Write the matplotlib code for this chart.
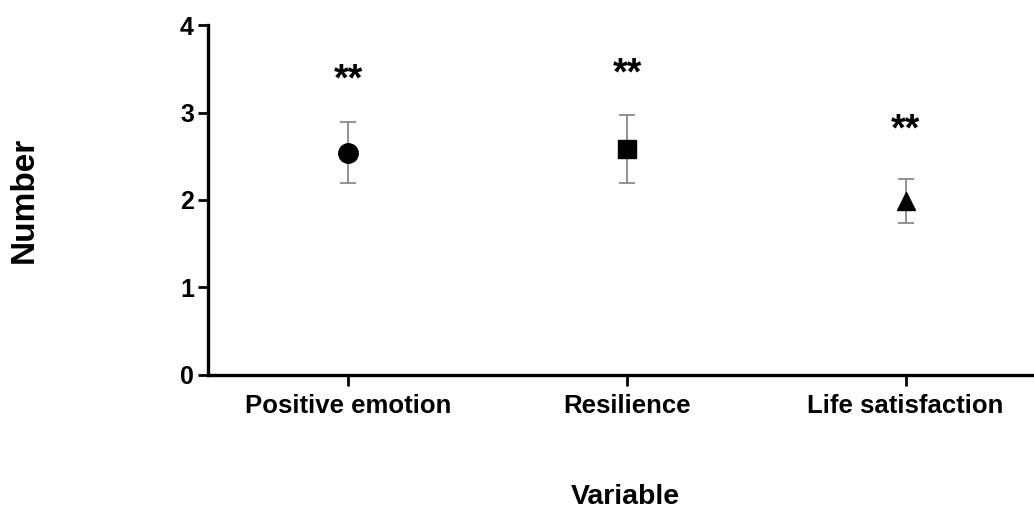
import matplotlib.pyplot as plt

plt.rcParams['font.family'] = ['Liberation Sans', 'DejaVu Sans']

variables = ["Positive emotion", "Resilience", "Life satisfaction"]
means = [2.54, 2.58, 1.99]
errors = [0.35, 0.39, 0.25]
markers = ["o", "s", "^"]
marker_sizes = [14, 12.5, 13]
star_y = [3.37, 3.43, 2.80]
star_labels = ["**", "**", "**"]

fig = plt.figure(figsize=(10.34, 5.12), dpi=100)
ax = fig.add_axes([0.201, 0.268, 0.81, 0.683])

x = range(1, len(variables) + 1)
for xi, m, e, mk, ms in zip(x, means, errors, markers, marker_sizes):
    ax.errorbar(xi, m, yerr=e, fmt='none', ecolor='#808080', elinewidth=1.2,
                capsize=5.5, capthick=1.2, zorder=2)
    ax.plot(xi, m, marker=mk, color='black', markersize=ms,
            linestyle='none', zorder=3)

for xi, sy, s in zip(x, star_y, star_labels):
    ax.text(xi, sy, s, ha='center', va='center', fontsize=27, fontweight='bold')

ax.set_xlim(0.495, 3.502)
ax.set_ylim(0, 4)
ax.set_yticks([0, 1, 2, 3, 4])
ax.set_xticks(list(x))
ax.set_xticklabels(variables)

for side in ['top', 'right']:
    ax.spines[side].set_visible(False)
for side in ['left', 'bottom']:
    ax.spines[side].set_linewidth(2.4)
ax.tick_params(axis='both', width=2)
ax.tick_params(axis='x', length=8, pad=6, labelsize=18.5)
ax.tick_params(axis='y', length=7, pad=3, labelsize=18)
for lab in ax.get_xticklabels() + ax.get_yticklabels():
    lab.set_fontweight('bold')

fig.text(0.023, 0.61, "Number", rotation=90, ha='center', va='center',
         fontsize=24, fontweight='bold')
fig.text(0.605, 0.029, "Variable", ha='center', va='center',
         fontsize=20.5, fontweight='bold')

plt.savefig('out.png', dpi=100)
plt.close()
